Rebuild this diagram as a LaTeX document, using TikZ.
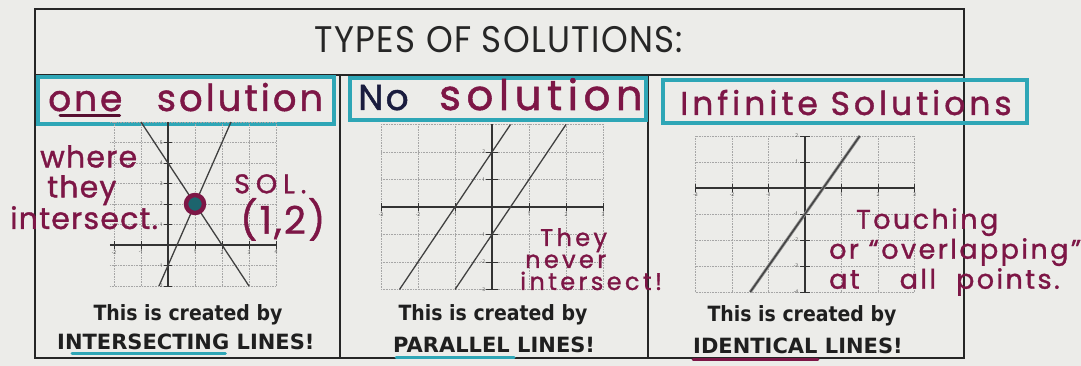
\documentclass[tikz,border=0pt]{standalone}
\usepackage{fontspec}
\usepackage{graphicx}
\setmainfont{Open Sans}
\newfontfamily\handfont[LetterSpace=14, FakeBold=1.2]{Poppins}
\newfontfamily\titlefont[LetterSpace=4]{Poppins}
\newfontfamily\capfont[FakeStretch=0.9]{DejaVu Sans}
\newfontfamily\wordfont{DejaVu Sans}
\usetikzlibrary{positioning}

\definecolor{ink}{RGB}{125,22,70}
\definecolor{marker}{RGB}{46,166,182}
\definecolor{navy}{RGB}{26,28,62}
\definecolor{paper}{RGB}{236,236,233}

\tikzset{
    frame/.style={black!85, line width=1.2pt},
    markerbox/.style={draw=marker, line width=3.8pt},
    hand/.style={text=ink, align=left, inner sep=0pt},
    caption/.style={font=\capfont\bfseries\fontsize{21}{24}\selectfont, text=black!88, inner sep=0pt},
    capword/.style={font=\wordfont\bfseries\fontsize{21}{24}\selectfont, text=black!88, inner sep=0pt},
    gridline/.style={black!35, densely dotted, line width=0.6pt},
    axis/.style={black!80, line width=1.2pt},
    graphline/.style={black!75, line width=1.3pt},
    ticklabel/.style={font=\fontsize{5}{5}\selectfont, text=black!70, inner sep=1pt},
    underline/.style={line width=3pt, line cap=round},
}

\begin{document}
\begin{tikzpicture}[x=1pt,y=-1pt]
    \fill[paper] (0,0) rectangle (1081,366);
    \useasboundingbox (0,0) rectangle (1081,366);

    % table frame
    \draw[frame] (35,9) rectangle (964,358);
    \draw[frame] (35,75) -- (964,75);
    \draw[frame] (340,75) -- (340,358);
    \draw[frame] (648,75) -- (648,358);

    % title
    \node[font=\titlefont\fontsize{37}{37}\selectfont, text=black!85, inner sep=0pt] (title) at (499,40) {\scalebox{0.92}[1]{TYPES OF SOLUTIONS:}};

    % one solution
    \draw[markerbox] (38,77) rectangle (334,124);
    \node[hand, font=\handfont\addfontfeatures{LetterSpace=8}\fontsize{36}{36}\selectfont, anchor=base west] (oneWord) at (48,111) {one};
    \node[hand, font=\handfont\addfontfeatures{LetterSpace=8}\fontsize{37}{37}\selectfont, base right=34pt of oneWord] (oneRest) {solution};
    \draw[underline, ink!70!black] ([yshift=-5pt,xshift=12pt]oneWord.base west) -- ([yshift=-5pt,xshift=-3pt]oneWord.base east);

    \begin{scope}[shift={(168,245)}, x=27pt, y=20.5pt]
        \foreach \t in {-2,...,4}
            \draw[gridline] (\t,-2) -- (\t,6);
        \foreach \t in {-2,...,6}
            \draw[gridline] (-2.15,\t) -- (4,\t);
        \draw[axis] (-2.15,0) -- (4,0);
        \draw[axis] (0,-2) -- (0,6);
        \foreach \t in {-2,-1,1,2,3,4}
            \draw[axis, line width=0.6pt] (\t,0.2) -- (\t,-0.2) node[ticklabel, below] {\t};
        \foreach \t in {-2,-1,1,2,3,4,5}
            \draw[axis, line width=0.6pt] (-0.15,\t) node[ticklabel, left] {\t} -- (0.15,\t);
        \draw[graphline] (-1,6) -- (3,-2);
        \draw[graphline] (-1/3,-2) -- (7/3,6);
        \draw[line width=4.5pt, draw=ink, fill=marker!60!black] (1,2) circle[radius=9pt];
    \end{scope}

    \node[hand, font=\handfont\addfontfeatures{LetterSpace=4}\fontsize{30}{30}\selectfont, anchor=north west] (whereNote) at (10,145) {\hspace{30pt}where\\\hspace{37pt}they\\intersect.};
    \node[hand, font=\handfont\addfontfeatures{LetterSpace=22}\fontsize{27}{27}\selectfont, anchor=north west] (solNote) at (234,174) {SOL.};
    \node[hand, font=\handfont\addfontfeatures{LetterSpace=6}\fontsize{38}{38}\selectfont, anchor=north west] (pointNote) at (240,198) {(1,2)};

    \node[caption] (createdOne) at (188,315) {This is created by};
    \node[capword, anchor=base west] (wordOne) at (57,349) {INTERSECTING};
    \node[capword, base right=7pt of wordOne] (linesOne) {LINES!};
    \draw[underline, marker] ([yshift=-4pt,xshift=15pt]wordOne.base west) -- ([yshift=-4pt,xshift=-4pt]wordOne.base east);

    % no solution
    \draw[markerbox] (350,78) rectangle (646,120);
    \node[hand, text=navy, font=\handfont\addfontfeatures{LetterSpace=6}\fontsize{36}{36}\selectfont, anchor=base west] (noWord) at (358,110) {No};
    \node[hand, font=\handfont\addfontfeatures{LetterSpace=13}\fontsize{42}{42}\selectfont, base right=30pt of noWord] (noRest) {solution};

    \begin{scope}[shift={(492,207)}, x=37pt, y=27.5pt]
        \foreach \t in {-3,...,3}
            \draw[gridline] (\t,-3) -- (\t,3);
        \foreach \t in {-3,...,3}
            \draw[gridline] (-3,\t) -- (3,\t);
        \draw[axis] (-3,0) -- (3,0);
        \draw[axis] (0,-3) -- (0,3);
        \foreach \t in {-3,-2,-1,1,2,3}
            \draw[axis, line width=0.6pt] (\t,0.15) -- (\t,-0.15) node[ticklabel, below] {\t};
        \foreach \t in {-3,-2,-1,1,2}
            \draw[axis, line width=0.6pt] (-0.15,\t) node[ticklabel, left] {\t} -- (0.15,\t);
        \draw[graphline] (-2.5,-3) -- (0.5,3);
        \draw[graphline] (-1,-3) -- (2,3);
    \end{scope}

    \node[hand, font=\handfont\fontsize{24}{22}\selectfont, anchor=north west] (neverNote) at (520,228) {\hspace{20pt}They\\\hspace{5pt}never\\intersect!};

    \node[caption] (createdNo) at (493,315) {This is created by};
    \node[capword, anchor=base west] (wordNo) at (393,352) {PARALLEL};
    \node[capword, base right=7pt of wordNo] (linesNo) {LINES!};
    \draw[underline, marker] ([yshift=-5pt,xshift=3pt]wordNo.base west) -- ([yshift=-5pt,xshift=4pt]wordNo.base east);

    % infinite solutions
    \draw[markerbox] (663,80) rectangle (1027,123);
    \node[hand, font=\handfont\addfontfeatures{LetterSpace=12}\fontsize{33}{33}\selectfont, anchor=base west] (infLabel) at (680,115) {Infinite Solutions};

    \begin{scope}[shift={(805,188)}, x=36.5pt, y=26pt]
        \foreach \t in {-3,...,3}
            \draw[gridline] (\t,-4) -- (\t,2);
        \foreach \t in {-4,...,2}
            \draw[gridline] (-3,\t) -- (3,\t);
        \draw[axis] (-3,0) -- (3,0);
        \draw[axis] (0,-4) -- (0,2);
        \foreach \t in {-3,-2,-1,1,2,3}
            \draw[axis, line width=0.6pt] (\t,0.15) -- (\t,-0.15) node[ticklabel, below] {\t};
        \foreach \t in {-4,-3,-2,-1,1,2}
            \draw[axis, line width=0.6pt] (-0.15,\t) node[ticklabel, left] {\t} -- (0.15,\t);
        \draw[black!45, line width=3pt] (-1.5,-4) -- (1.5,2);
        \draw[graphline] (-1.5,-4) -- (1.5,2);
    \end{scope}

    \node[hand, font=\handfont\addfontfeatures{LetterSpace=9}\fontsize{27}{30}\selectfont, anchor=north west] (touchNote) at (829,208) {\hspace{27pt}Touching\\or “overlapping”\\at\hspace{40pt}all\hspace{20pt}points.};

    \node[caption] (createdInf) at (802,316) {This is created by};
    \node[capword, anchor=base west] (wordInf) at (693,353) {IDENTICAL};
    \node[capword, base right=7pt of wordInf] (linesInf) {LINES!};
    \draw[underline, ink] ([yshift=-6pt]wordInf.base west) -- ([yshift=-6pt]wordInf.base east);
\end{tikzpicture}
\end{document}
